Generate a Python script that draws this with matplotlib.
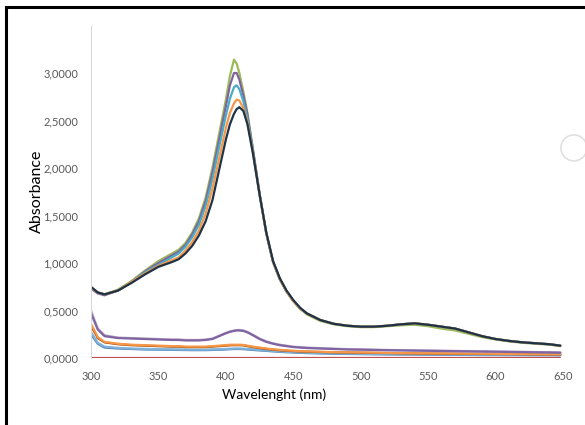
import numpy as np
import matplotlib
matplotlib.use("Agg")
import matplotlib.pyplot as plt
from matplotlib.patches import Rectangle, Ellipse

plt.rcParams['font.family'] = ['Lato', 'DejaVu Sans']

wl = [300, 305, 310, 320, 330, 340, 350, 360, 365, 370, 375, 380, 385, 390, 395,
      400, 403, 406, 408, 410, 413, 416, 420, 425, 430, 435, 440, 445, 450, 455,
      460, 470, 480, 490, 500, 510, 520, 530, 540, 550, 560, 570, 580, 590, 600,
      610, 620, 630, 640, 648]

# upper group (concentrated samples)
tail_hi = [0.47, 0.40, 0.36, 0.34, 0.33, 0.33, 0.34, 0.355, 0.365, 0.35, 0.33,
           0.31, 0.27, 0.23, 0.20, 0.18, 0.165, 0.155, 0.145, 0.13]
tail_green = [0.46, 0.39, 0.355, 0.335, 0.325, 0.325, 0.335, 0.345, 0.35, 0.335,
              0.31, 0.29, 0.255, 0.22, 0.195, 0.175, 0.16, 0.15, 0.14, 0.125]

navy = [0.75, 0.69, 0.67, 0.71, 0.79, 0.88, 0.96, 1.01, 1.04, 1.10, 1.18, 1.29, 1.44,
        1.66, 1.98, 2.30, 2.46, 2.57, 2.62, 2.64, 2.60, 2.46, 2.16, 1.72, 1.32, 1.02,
        0.84, 0.71, 0.61, 0.53] + tail_hi
orange = [0.74, 0.69, 0.67, 0.71, 0.80, 0.89, 0.97, 1.03, 1.06, 1.13, 1.22, 1.34, 1.52,
          1.78, 2.10, 2.42, 2.58, 2.68, 2.72, 2.71, 2.63, 2.48, 2.16, 1.72, 1.31, 1.01,
          0.83, 0.70, 0.60, 0.52] + tail_hi
aqua = [0.74, 0.69, 0.67, 0.71, 0.80, 0.90, 0.98, 1.06, 1.10, 1.17, 1.27, 1.40, 1.60,
        1.88, 2.22, 2.55, 2.73, 2.85, 2.87, 2.83, 2.70, 2.52, 2.18, 1.72, 1.31, 1.01,
        0.83, 0.70, 0.60, 0.52] + tail_hi
purple = [0.73, 0.68, 0.66, 0.71, 0.80, 0.91, 1.00, 1.08, 1.12, 1.19, 1.30, 1.44, 1.65,
          1.95, 2.30, 2.65, 2.87, 3.00, 3.00, 2.93, 2.76, 2.56, 2.20, 1.73, 1.31, 1.01,
          0.83, 0.70, 0.60, 0.52] + tail_hi
green = [0.74, 0.69, 0.67, 0.72, 0.81, 0.92, 1.02, 1.10, 1.14, 1.21, 1.32, 1.47, 1.69,
         2.00, 2.36, 2.72, 2.97, 3.14, 3.10, 3.00, 2.80, 2.58, 2.20, 1.73, 1.31, 1.01,
         0.83, 0.70, 0.60, 0.52] + tail_green

# lower group (diluted samples)
purple_lo = [0.47, 0.30, 0.23, 0.21, 0.205, 0.20, 0.195, 0.19, 0.19, 0.185, 0.185,
             0.185, 0.19, 0.20, 0.23, 0.26, 0.275, 0.285, 0.29, 0.29, 0.285, 0.27,
             0.24, 0.20, 0.17, 0.15, 0.135, 0.125, 0.115, 0.11, 0.105, 0.10, 0.095,
             0.09, 0.088, 0.085, 0.082, 0.08, 0.078, 0.076, 0.074, 0.072, 0.07,
             0.068, 0.066, 0.064, 0.062, 0.06, 0.058, 0.056]
gray_lo = [0.50, 0.31, 0.24, 0.215, 0.21, 0.205, 0.20, 0.195, 0.195, 0.19, 0.19,
           0.19, 0.195, 0.205, 0.235, 0.265, 0.28, 0.29, 0.295, 0.295, 0.29, 0.275,
           0.245, 0.205, 0.175, 0.155, 0.14, 0.13, 0.12, 0.115, 0.11, 0.104, 0.099,
           0.094, 0.091, 0.088, 0.085, 0.083, 0.081, 0.079, 0.077, 0.075, 0.073,
           0.071, 0.069, 0.067, 0.065, 0.063, 0.061, 0.059]
orange_lo = [0.36, 0.22, 0.17, 0.15, 0.14, 0.135, 0.13, 0.125, 0.125, 0.12, 0.12,
             0.12, 0.12, 0.125, 0.13, 0.135, 0.14, 0.14, 0.14, 0.14, 0.138, 0.13,
             0.12, 0.11, 0.10, 0.092, 0.086, 0.08, 0.076, 0.072, 0.07, 0.066, 0.062,
             0.06, 0.058, 0.056, 0.054, 0.052, 0.05, 0.049, 0.048, 0.047, 0.046,
             0.045, 0.044, 0.043, 0.042, 0.041, 0.04, 0.04]
brown_lo = [0.34, 0.21, 0.165, 0.145, 0.135, 0.13, 0.125, 0.12, 0.12, 0.115, 0.115,
            0.115, 0.115, 0.12, 0.125, 0.13, 0.134, 0.135, 0.135, 0.135, 0.133, 0.125,
            0.115, 0.105, 0.095, 0.088, 0.082, 0.077, 0.073, 0.069, 0.067, 0.063,
            0.06, 0.058, 0.056, 0.054, 0.052, 0.05, 0.048, 0.047, 0.046, 0.045,
            0.044, 0.043, 0.042, 0.041, 0.04, 0.039, 0.038, 0.038]
blue_lo = [0.25, 0.15, 0.11, 0.10, 0.095, 0.09, 0.088, 0.086, 0.085, 0.084, 0.083,
           0.083, 0.083, 0.085, 0.087, 0.09, 0.093, 0.095, 0.095, 0.095, 0.093, 0.09,
           0.085, 0.08, 0.075, 0.07, 0.065, 0.061, 0.058, 0.055, 0.052, 0.048,
           0.045, 0.043, 0.041, 0.039, 0.038, 0.037, 0.036, 0.035, 0.034, 0.033,
           0.032, 0.031, 0.031, 0.030, 0.030, 0.029, 0.029, 0.028]
aqua_lo = [0.27, 0.16, 0.12, 0.107, 0.10, 0.096, 0.093, 0.091, 0.09, 0.089, 0.088,
           0.088, 0.088, 0.09, 0.092, 0.095, 0.098, 0.1, 0.1, 0.1, 0.098, 0.095,
           0.09, 0.085, 0.08, 0.074, 0.069, 0.065, 0.062, 0.059, 0.056, 0.052,
           0.049, 0.047, 0.045, 0.043, 0.042, 0.041, 0.04, 0.039, 0.038, 0.037,
           0.036, 0.035, 0.035, 0.034, 0.034, 0.033, 0.033, 0.032]
red_lo = [0.005] * len(wl)

series = [
    (red_lo, '#C0504D'),
    (blue_lo, '#4F81BD'),
    (aqua_lo, '#7FB2D9'),
    (brown_lo, '#984807'),
    (orange_lo, '#F79646'),
    (gray_lo, '#B7A8C8'),
    (purple_lo, '#8064A2'),
    (green, '#9BBB59'),
    (purple, '#8064A2'),
    (aqua, '#4BACC6'),
    (orange, '#F79646'),
    (navy, '#1F3346'),
]

fig = plt.figure(figsize=(5.85, 4.25), dpi=100)
ax = fig.add_axes([0.1556, 0.1576, 0.8068, 0.7824])

for vals, col in series:
    ax.plot(wl, vals, color=col, lw=1.6, solid_capstyle='round')

ax.set_xlim(300, 650)
ax.set_ylim(0, 3.5)
ax.set_xticks([300, 350, 400, 450, 500, 550, 600, 650])
ax.set_yticks([0, 0.5, 1.0, 1.5, 2.0, 2.5, 3.0])
ax.set_yticklabels(['0,0000', '0,5000', '1,0000', '1,5000', '2,0000', '2,5000', '3,0000'])
ax.tick_params(length=0, labelsize=8, labelcolor='#595959', pad=9)
for s in ['top', 'right', 'bottom']:
    ax.spines[s].set_visible(False)
ax.spines['left'].set_color('#D9D9D9')
ax.spines['left'].set_linewidth(0.8)

ax.set_xlabel('Wavelenght (nm)', fontsize=10, color='black')
ax.set_ylabel('Absorbance', fontsize=11.5, color='black')
ax.xaxis.set_label_coords(0.388, -0.092)
ax.yaxis.set_label_coords(-0.100, 0.502)

# screenshot frame and stray circle
fig.patches.append(Rectangle((0.011, -0.05), 1.1, 1.034, transform=fig.transFigure,
                             fill=False, edgecolor='black', lw=2.2))
fig.patches.append(Ellipse((0.981, 0.652), 26 / 585, 26 / 425, transform=fig.transFigure,
                           fill=False, edgecolor='#E0E0E0', lw=1.2))

fig.savefig('out.png', dpi=100)
